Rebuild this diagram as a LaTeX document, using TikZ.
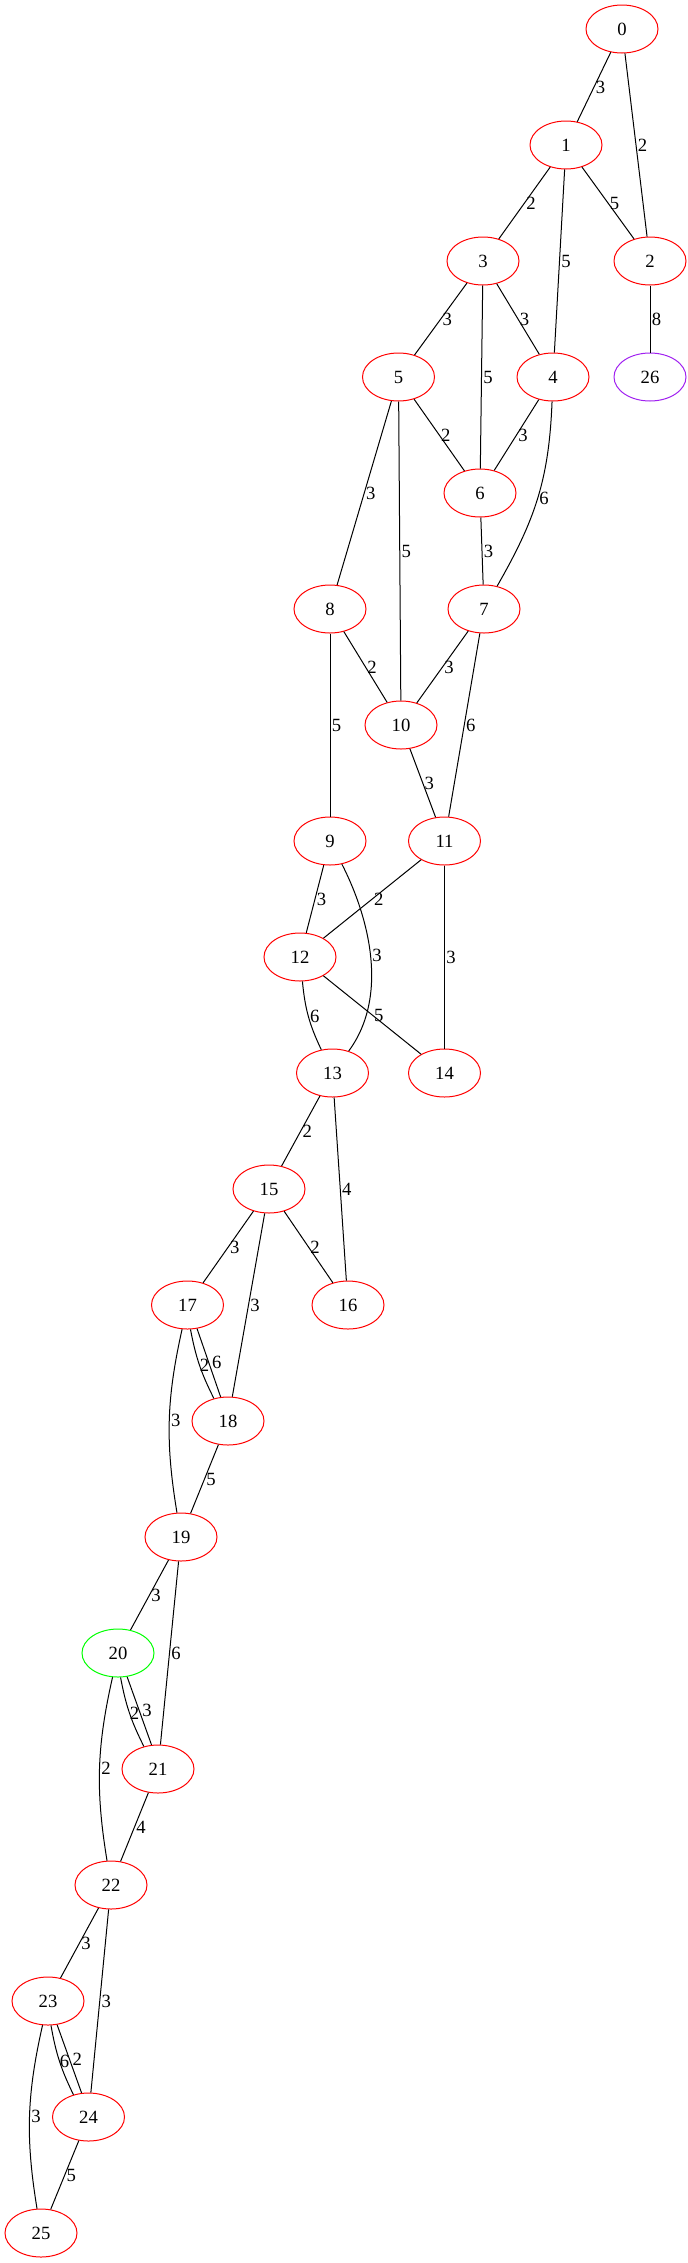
\documentclass[tikz,border=0pt]{standalone}
\usepackage{fontspec}
\setmainfont{Liberation Serif}
\usepackage{tikz}
\usetikzlibrary{shapes.geometric}
\definecolor{gvred}{RGB}{255,0,0}
\definecolor{gvgreen}{RGB}{0,255,0}
\definecolor{gvpurple}{RGB}{160,32,240}

\begin{document}
\begin{tikzpicture}[x=0.75pt,y=-0.75pt,line width=0.75pt,
  main node/.style={ellipse,draw=gvred,minimum width=54pt,minimum height=36pt,inner sep=0pt,font=\fontsize{14}{16}\selectfont},
  start node/.style={main node,draw=gvgreen},
  end node/.style={main node,draw=gvpurple},
  wt/.style={midway,right,inner sep=1pt,font=\fontsize{14}{16}\selectfont}]

  \useasboundingbox (0,0) rectangle (687,2263);

  \node[main node] (0) at (622,29) {0};
  \node[main node] (1) at (566,145) {1};
  \node[main node] (2) at (650,261) {2};
  \node[main node] (3) at (483,261) {3};
  \node[main node] (4) at (553,377) {4};
  \node[main node] (5) at (398.5,377) {5};
  \node[end node] (26) at (650,377) {26};
  \node[main node] (6) at (480,493) {6};
  \node[main node] (7) at (484,609) {7};
  \node[main node] (8) at (330,609) {8};
  \node[main node] (10) at (401,725) {10};
  \node[main node] (9) at (330,841) {9};
  \node[main node] (11) at (444.5,841) {11};
  \node[main node] (12) at (300,957) {12};
  \node[main node] (13) at (332.5,1073) {13};
  \node[main node] (14) at (444.5,1073) {14};
  \node[main node] (15) at (269,1189) {15};
  \node[main node] (16) at (348,1305) {16};
  \node[main node] (17) at (187.5,1305) {17};
  \node[main node] (18) at (228,1421) {18};
  \node[main node] (19) at (181,1537) {19};
  \node[start node] (20) at (118,1653) {20};
  \node[main node] (21) at (158,1769) {21};
  \node[main node] (22) at (111,1885) {22};
  \node[main node] (23) at (48,2001) {23};
  \node[main node] (24) at (88.5,2117) {24};
  \node[main node] (25) at (41,2233) {25};

  \path (0) edge node[wt] {3} (1);
  \path (0) edge node[wt] {2} (2);
  \path (1) edge node[wt] {2} (3);
  \path (1) edge node[wt] {5} (4);
  \path (1) edge node[wt] {5} (2);
  \path (2) edge node[wt] {8} (26);
  \path (3) edge node[wt] {3} (5);
  \path (3) edge node[wt] {5} (6);
  \path (3) edge node[wt] {3} (4);
  \path (5) edge node[wt] {2} (6);
  \path (5) edge node[wt] {3} (8);
  \path (5) edge node[wt] {5} (10);
  \path (4) edge node[wt] {3} (6);
  \draw (4) .. controls (549,480) and (535,520) .. node[wt] {6} (7);
  \path (6) edge node[wt] {3} (7);
  \path (8) edge node[wt] {2} (10);
  \path (8) edge node[wt] {5} (9);
  \path (7) edge node[wt] {3} (10);
  \path (7) edge node[wt] {6} (11);
  \path (10) edge node[wt] {3} (11);
  \path (9) edge node[wt] {3} (12);
  \draw (9) .. controls (368,915) and (390,995) .. node[wt] {3} (13);
  \path (11) edge node[wt] {2} (12);
  \path (11) edge node[wt] {3} (14);
  \path (12) edge[bend right=10] node[wt] {6} (13);
  \path (12) edge node[wt] {5} (14);
  \path (13) edge node[wt] {2} (15);
  \path (13) edge node[wt] {4} (16);
  \path (15) edge node[wt] {3} (17);
  \path (15) edge node[wt] {3} (18);
  \path (15) edge node[wt] {2} (16);
  \path (17.-83) edge[bend right=8] node[wt,inner sep=0pt] {2} (18.122);
  \path (17.-68) edge node[wt,inner sep=2pt] {6} (18.107);
  \path (17) edge[bend right=11] node[wt] {3} (19);
  \path (18) edge node[wt] {5} (19);
  \path (19) edge node[wt] {3} (20);
  \path (19) edge node[wt] {6} (21);
  \path (20.-84) edge[bend right=8] node[wt,inner sep=0pt] {2} (21.122);
  \path (20.-69) edge node[wt,inner sep=2pt] {3} (21.105);
  \path (20) edge[bend right=11] node[wt] {2} (22);
  \path (21) edge node[wt] {4} (22);
  \path (22) edge node[wt] {3} (23);
  \path (22) edge node[wt] {3} (24);
  \path (23.-83) edge[bend right=8] node[wt,inner sep=0pt] {6} (24.124);
  \path (23.-69) edge node[wt,inner sep=2pt] {2} (24.106);
  \path (23) edge[bend right=11] node[wt] {3} (25);
  \path (24) edge node[wt] {5} (25);
\end{tikzpicture}
\end{document}
